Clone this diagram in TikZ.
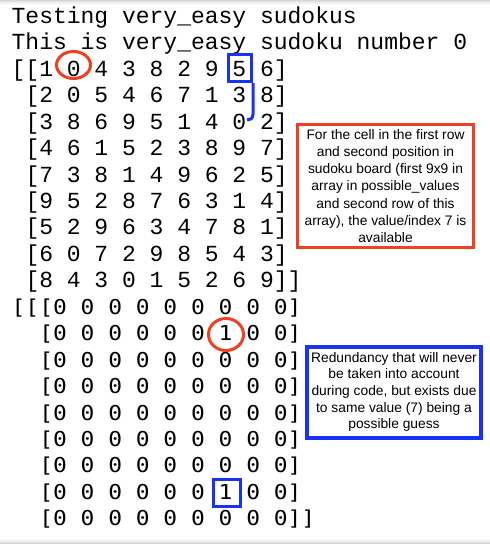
\documentclass[tikz,border=0pt]{standalone}
\usepackage{fontspec}
\setmainfont{Liberation Sans}
\newfontfamily\consolefont{Liberation Mono}
\newfontfamily\arrayfont[FakeStretch=1.118]{DejaVu Sans Mono}
\definecolor{notered}{RGB}{236,66,33}
\definecolor{noteblue}{RGB}{25,52,240}

\begin{document}
\begin{tikzpicture}[x=1pt,y=-1pt,
	console/.style={anchor=base west,inner sep=0pt,font=\consolefont\fontsize{23}{26}\selectfont},
	zeros/.style={anchor=base west,inner sep=0pt,font=\arrayfont\fontsize{20.5}{26}\selectfont},
	redmark/.style={draw=notered,line width=3pt},
	bluemark/.style={draw=noteblue,line width=3pt},
	notebox/.style={line width=3.3pt,fill=white,align=center,inner sep=0pt,font=\fontsize{13.8}{17.2}\selectfont}]
		\useasboundingbox (0,0) rectangle (490,544);
		%draw window edges
		\foreach \y/\g in {0/16,1/11,2/7,3/4,4/2}{
			\fill[black!\g] (0,\y) rectangle (490,\y+1);
			\fill[black!\g] (0,543-\y) rectangle (490,544-\y);
		}
		%draw header lines
		\node[console] (title) at (11.5,23.3) {Testing very\_easy sudokus};
		\node[console] (subtitle) at (11.5,49.75) {This is very\_easy sudoku number 0};
		%draw board
		\node[console] (b1) at (11.5,76.2) {[[1 0 4 3 8 2 9 5 6]};
		\node[console] (b2) at (25.3,102.65) {[2 0 5 4 6 7 1 3 8]};
		\node[console] (b3) at (25.3,129.1) {[3 8 6 9 5 1 4 0 2]};
		\node[console] (b4) at (25.3,155.55) {[4 6 1 5 2 3 8 9 7]};
		\node[console] (b5) at (25.3,182) {[7 3 8 1 4 9 6 2 5]};
		\node[console] (b6) at (25.3,208.45) {[9 5 2 8 7 6 3 1 4]};
		\node[console] (b7) at (25.3,234.9) {[5 2 9 6 3 4 7 8 1]};
		\node[console] (b8) at (25.3,261.35) {[6 0 7 2 9 8 5 4 3]};
		\node[console] (b9) at (25.3,287.8) {[8 4 3 0 1 5 2 6 9]]};
		%draw possible values
		\node[zeros] (p1) at (11.5,314.25) {[[[0 0 0 0 0 0 0 0 0]};
		\node[zeros] (p2) at (39.1,340.7) {[0 0 0 0 0 0 1 0 0]};
		\foreach \i in {3,...,7}{
			\node[zeros] (p\i) at (39.1,{23.3+26.45*(\i+10)}) {[0 0 0 0 0 0 0 0 0]};
		}
		\node[zeros] (p8) at (39.1,499.4) {[0 0 0 0 0 0 1 0 0]};
		\node[zeros] (p9) at (39.1,525.85) {[0 0 0 0 0 0 0 0 0]]};
		%draw marks
		\draw[redmark] (73.5,65) ellipse [x radius=17, y radius=13.5];
		\draw[redmark] (226,334.5) ellipse [x radius=17.5, y radius=16];
		\node[bluemark,minimum width=23pt,minimum height=27pt] (fivebox) at (240,68) {};
		\node[bluemark,minimum width=27pt,minimum height=27pt] (onebox) at (227,493) {};
		\draw[bluemark] (fivebox.south east) -- ++(0,31) .. controls +(0,5) and +(3,0) .. ++(-6,6);
		%draw notes
		\node[notebox,draw=notered,minimum width=176pt,minimum height=123pt] (valuenote) at (385.5,186) {For the cell in the first row\\and second position in\\sudoku board (first 9x9 in\\array in possible\_values\\and second row of this\\array), the value/index 7 is\\available};
		\node[notebox,draw=noteblue,line width=4pt,minimum width=174pt,minimum height=91pt,font=\fontsize{13.8}{16.65}\selectfont] (guessnote) at (394,392) {Redundancy that will never\\be taken into account\\during code, but exists due\\to same value (7) being a\\possible guess};
		
		\end{tikzpicture}
\end{document}
